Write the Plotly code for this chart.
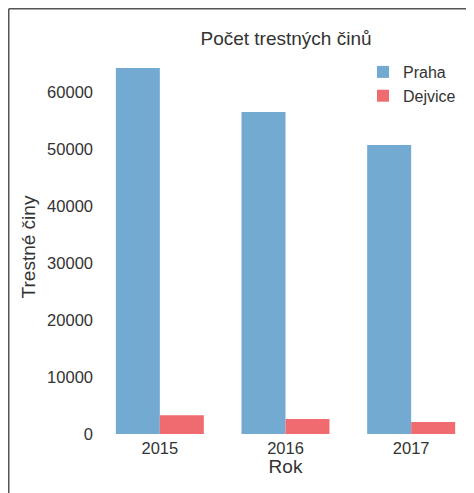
'''
    Grouped bar chart: number of crimes, Praha vs Dejvice.
'''
import plotly.graph_objects as go

years = ["2015", "2016", "2017"]
praha = [64200, 56500, 50700]
dejvice = [3300, 2650, 2100]

BLUE = "#72aad2"
RED = "#ef6b70"
TEXT = "#333333"
FONT = "Liberation Sans, Arial, sans-serif"

# the page body adds an 8px offset, so the figure is 8px smaller
W, H = 466, 485
left, right, top, bottom = 89, 0, 52, 59
w, h = W - left - right, H - top - bottom

fig = go.Figure()
fig.add_trace(go.Bar(x=years, y=praha, name="Praha", marker_color=BLUE,
                     marker_line_width=0))
fig.add_trace(go.Bar(x=years, y=dejvice, name="Dejvice", marker_color=RED,
                     marker_line_width=0))

fig.update_layout(
    width=W, height=H,
    margin=dict(l=left, r=right, t=top, b=bottom),
    barmode="group", bargap=0.3, bargroupgap=0,
    plot_bgcolor="white", paper_bgcolor="white",
    font=dict(family=FONT, size=16, color=TEXT),
    title=dict(text="Počet trestných činů", x=278 / W, xanchor="center",
               y=1 - 30 / H, yanchor="middle", font=dict(size=19, color=TEXT)),
    legend=dict(x=(355 - left) / w, y=1 + (top - 47) / h,
                xanchor="left", yanchor="top",
                bgcolor="rgba(0,0,0,0)", font=dict(size=16, color=TEXT),
                tracegroupgap=0),
    showlegend=True,
)

fig.update_xaxes(
    range=[-0.5, 2.5], showgrid=False, zeroline=False, showline=False, ticks="",
    ticklabelstandoff=2,
    title=dict(text="Rok", standoff=2, font=dict(size=19, color=TEXT)),
    tickfont=dict(size=16.5, color=TEXT),
)
fig.update_yaxes(
    range=[0, 65614], showgrid=False, zeroline=False, showline=False, ticks="",
    ticklabelstandoff=3,
    tickvals=[0, 10000, 20000, 30000, 40000, 50000, 60000],
    ticktext=["0", "10000", "20000", "30000", "40000", "50000", "60000"],
    title=dict(text="Trestné činy", standoff=6, font=dict(size=19, color=TEXT)),
    tickfont=dict(size=16.5, color=TEXT),
)

# frame lines at the left and top edge of the image
fx0 = (0.75 - left) / w
fy0 = 1 + (top - 0.75) / h
fig.add_shape(type="line", xref="paper", yref="paper",
              x0=fx0, x1=fx0, y0=fy0, y1=-bottom / h,
              line=dict(color="#555555", width=1.5))
fig.add_shape(type="line", xref="paper", yref="paper",
              x0=fx0, x1=1, y0=fy0, y1=fy0,
              line=dict(color="#555555", width=1.5))

fig.write_html("out.html")
